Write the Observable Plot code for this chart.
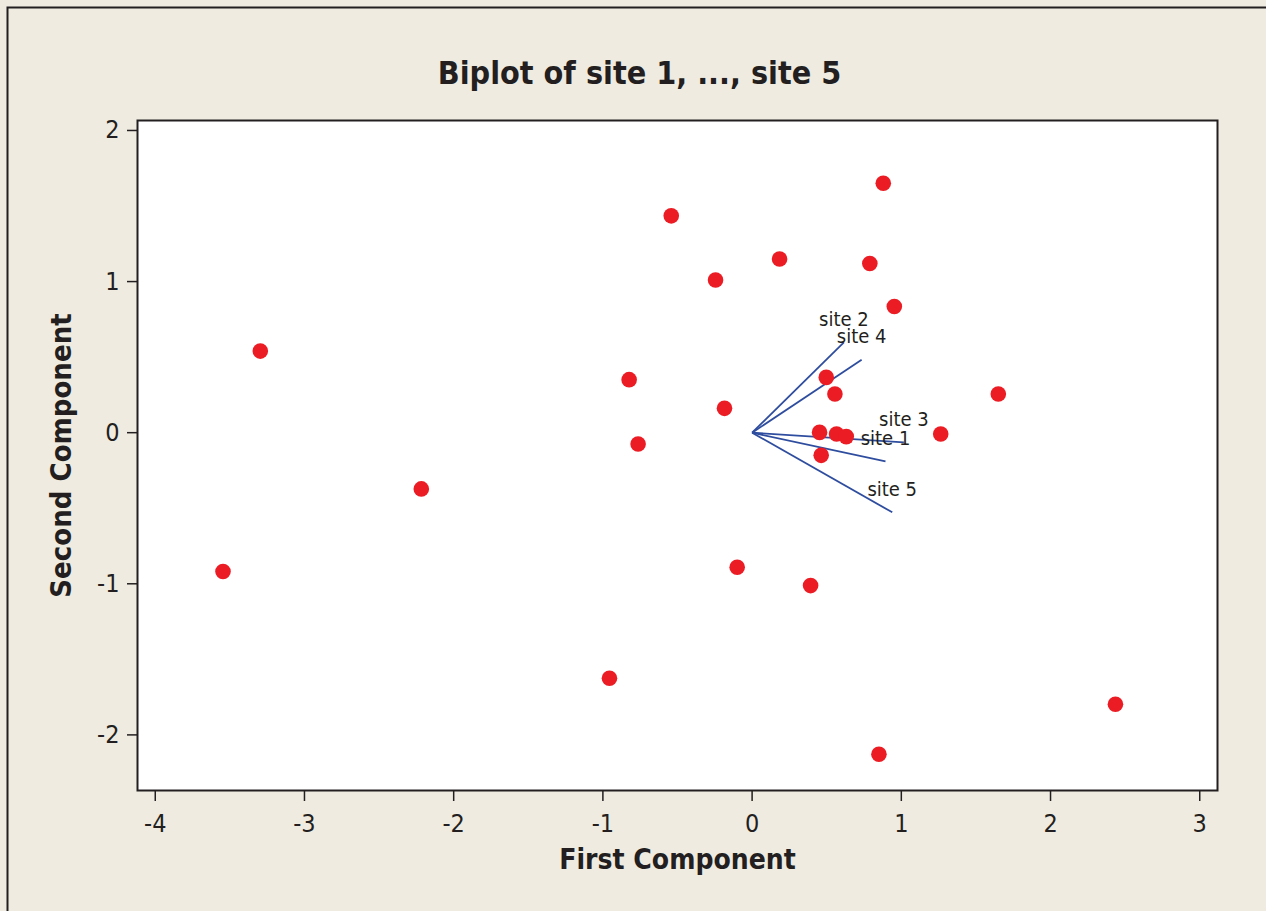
<!DOCTYPE html>
<html><head><meta charset="utf-8">
<script src="https://cdn.jsdelivr.net/npm/d3@7"></script>
<script src="https://cdn.jsdelivr.net/npm/@observablehq/plot@0.6"></script>
<style>html,body{margin:0;padding:0;background:#EFEBE1;overflow:hidden}</style>
</head><body><div id="chart"></div>
<script>
// Observation scores (first, second component)
const scoreX = [0.879, -0.542, 0.184, -0.245, 0.789, 0.953, -3.296, -0.824, 0.497, 0.555, 1.650, -0.185, -0.764, 0.452, 0.566, 0.631, 1.264, 0.463, -2.217, -3.546, -0.100, 0.392, -0.956, 2.435, 0.850];
const scoreY = [1.651, 1.435, 1.149, 1.010, 1.120, 0.835, 0.540, 0.351, 0.366, 0.256, 0.256, 0.161, -0.075, 0.002, -0.009, -0.026, -0.009, -0.150, -0.372, -0.919, -0.891, -1.012, -1.625, -1.797, -2.128];
// Variable loadings
const sites = ["site 1", "site 2", "site 3", "site 4", "site 5"];
const loadX = [0.894, 0.615, 1.017, 0.734, 0.939];
const loadY = [-0.190, 0.597, -0.064, 0.483, -0.527];
// Ticks & text
const xTicks = [-4, -3, -2, -1, 0, 1, 2, 3];
const yTicks = [-2, -1, 0, 1, 2];
const titleText = "Biplot of site 1, ..., site 5";
const xLabel = "First Component";
const yLabel = "Second Component";

const scores = scoreX.map((x, i) => ({x, y: scoreY[i]}));
const loadings = sites.map((s, i) => ({site: s, x0: 0, y0: 0, x: loadX[i], y: loadY[i]}));

const font = "'DejaVu Sans Condensed', 'DejaVu Sans', sans-serif";
const ink = "#231F20";
const bg = "#EFEBE1";

const outerFrame = (index, scales, values, dims) => {
  const p = document.createElementNS("http://www.w3.org/2000/svg", "path");
  p.setAttribute("d", `M${dims.width + 10},7.5H7.5V${dims.height + 10}`);
  p.setAttribute("fill", "none");
  p.setAttribute("stroke", ink);
  p.setAttribute("stroke-width", "2");
  return p;
};

const chart = Plot.plot({
  width: 1266, height: 911,
  marginLeft: 137, marginRight: 49, marginTop: 120, marginBottom: 121,
  style: {background: bg, fontFamily: font, color: ink},
  x: {domain: [-4.119, 3.119]},
  y: {domain: [-2.368, 2.066]},
  marks: [
    outerFrame,
    Plot.frame({fill: "white", stroke: null}),
    Plot.link(loadings, {x1: "x0", y1: "y0", x2: "x", y2: "y", stroke: "#2F4D9F", strokeWidth: 1.8}),
    Plot.text(loadings, {x: "x", y: "y", text: "site", dy: -23, fontSize: 20, lineAnchor: "middle", fill: ink}),
    Plot.dot(scores, {x: "x", y: "y", r: 7.8, fill: "#EC1C24", stroke: null}),
    Plot.frame({stroke: ink, strokeWidth: 2}),
    Plot.axisX({ticks: xTicks, tickSize: 11, tickPadding: 13, fontSize: 25, stroke: ink, strokeWidth: 1.5, fill: ink, label: null, tickFormat: d => String(d).replace("−", "-")}),
    Plot.axisY({ticks: yTicks, tickSize: 10, tickPadding: 8, fontSize: 25, stroke: ink, strokeWidth: 1.5, fill: ink, label: null, tickFormat: d => String(d).replace("−", "-")}),
    Plot.text([xLabel], {text: d => d, frameAnchor: "bottom", textAnchor: "middle", dy: 70, lineAnchor: "middle", fontSize: 28, fontWeight: "bold", fill: ink}),
    Plot.text([yLabel], {text: d => d, frameAnchor: "left", textAnchor: "middle", dx: -76, rotate: -90, lineAnchor: "middle", fontSize: 29, fontWeight: "bold", fill: ink}),
    Plot.text([titleText], {text: d => d, frameAnchor: "top", textAnchor: "middle", dx: -38, dy: -47, lineAnchor: "middle", fontSize: 32, fontWeight: "bold", fill: ink})
  ]
});
document.getElementById("chart").appendChild(chart);
</script>
</body></html>
